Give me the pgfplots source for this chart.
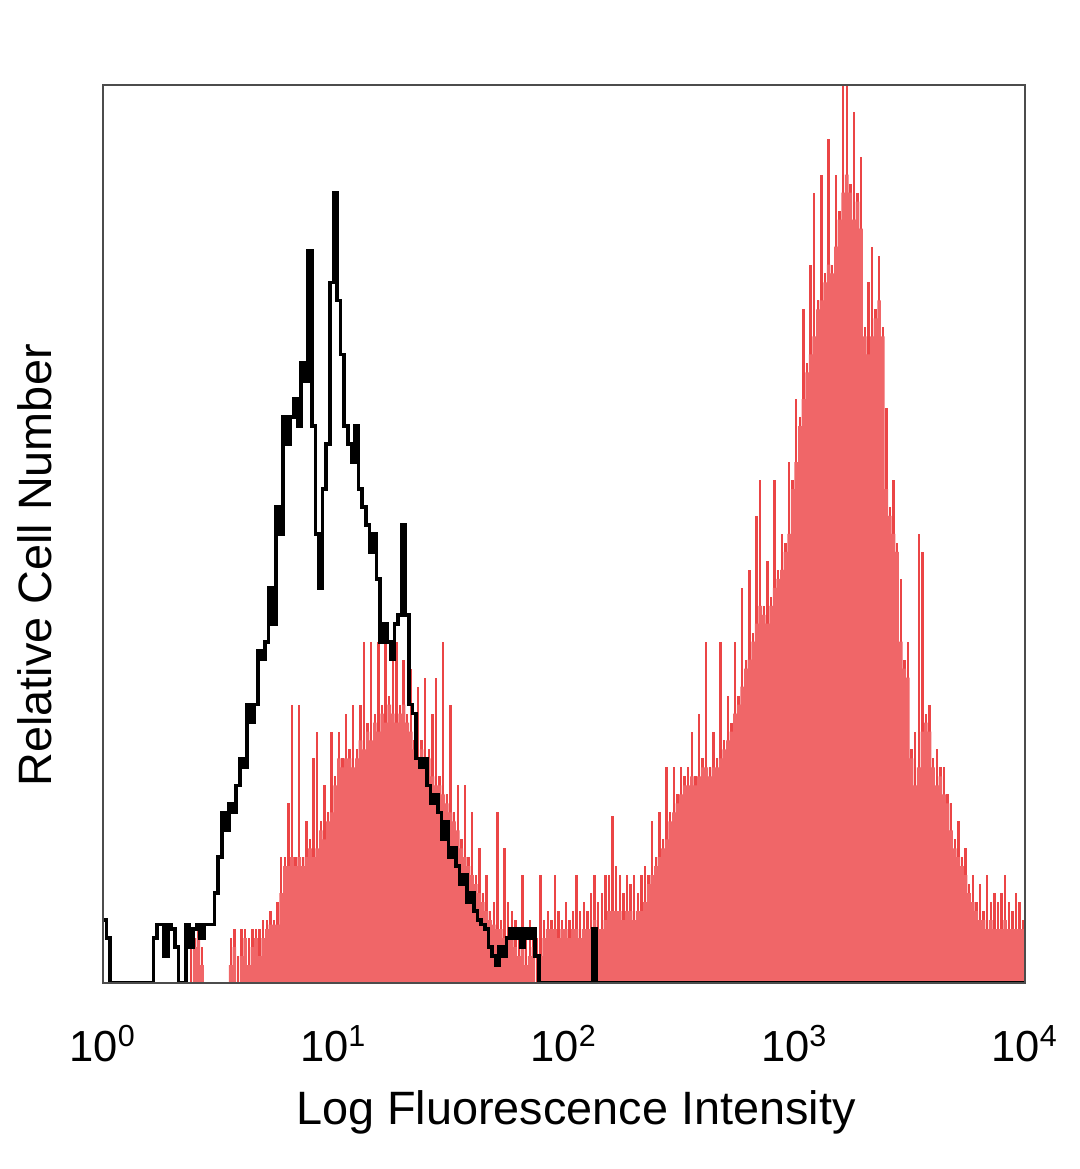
\documentclass[border=0pt]{standalone}
\usepackage{pgfplots}
\pgfplotsset{compat=1.18}
\usepackage{pgfplotstable}
\usepackage{fontspec}
\setmainfont{Liberation Sans}
\definecolor{salmon}{RGB}{240,102,104}
\definecolor{spikered}{RGB}{232,36,38}

\pgfplotstableread{
c F S B
0 0 0 7
1 0 0 5
2 0 0 0
3 0 0 0
4 0 0 0
5 0 0 0
6 0 0 0
7 0 0 0
8 0 0 0
9 0 0 0
10 0 0 0
11 0 0 0
12 0 0 0
13 0 0 0
14 0 0 5
15 0 0 6.5
16 0 0 6.5
17 0 0 3
18 0 0 6.5
19 0 0 6
20 0 0 4
21 0 0 0
22 0 0 0
23 0 0 6.5
24 0 4 4
25 4 5 6
26 5 6 6.5
27 2 4 5
28 0 0 6.5
29 0 0 6.5
30 0 0 6.5
31 0 0 10
32 0 0 14
33 0 0 19
34 0 0 17
35 2 5 20
36 4 6 19
37 0 3 22
38 3 6 25
39 5 6 24
40 2 5 31
41 4 6 29
42 5 6 31
43 3 6 37
44 5 7 36
45 6 7 38
46 6.5 8 44
47 6.5 7 40
48 6.5 9 53
49 10 14 50
50 13 14 63
51 13 20 60
52 14 31 63
53 13 14 65
54 14 31 62
55 13 14 69
56 14 18 67
57 15 16 81.5
58 14 25 62
59 15 28 50
60 17 18 44
61 16 22 55
62 18 19 60
63 19 28 78
64 22 23 88
65 25 28 76
66 24 25 70
67 25 30 62
68 25 26 60
69 24 31 58
70 25 26 62
71 27 31 55
72 26 38 53
73 28 29 51
74 27 38 48
75 29 30 50
76 28 38 45
77 30 31 38
78 29 38 40
79 31 32 38
80 30 37 36
81 29 38 40
82 30 31 41
83 31 36 51
84 29 30 41
85 28 35 31
86 26 27 30
87 25 33 25
88 26 27 24
89 24 34 25
90 25 26 22
91 23 30 20
92 22 34 21
93 22 23 19
94 21 38 16
95 20 21 18
96 19 31 14
97 18 19 15
98 17 22 13
99 15 16 11
100 14 22 12
101 13 14 9
102 12 19 10
103 11 12 8
104 10 15 7
105 9 10 6.5
106 8 12 6
107 7 8 4
108 6.5 9 3
109 6 19 2
110 6 7 4
111 5 15 3
112 5 9 5
113 5 8 6
114 4 7 5
115 3 6 6
116 4 12 4
117 2 6 6
118 3 7 5
119 4 6 6
120 0 5 3
121 3 12 0
122 5 7 0
123 6 8 0
124 6 7 0
125 6 12 0
126 5 8 0
127 6 7 0
128 6 9 0
129 5 7 0
130 6 8 0
131 6 12 0
132 5 8 0
133 6 9 0
134 6 8 0
135 6 10 0
136 7 12 6
137 6 9 0
138 6 10 0
139 7 12 0
140 8 12 0
141 8 18.6 0
142 8 13 0
143 8 12 0
144 7 10 0
145 8 12 0
146 8 11 0
147 7 12 0
148 8 10 0
149 8 12 0
150 9 13 0
151 11 12 0
152 12 18 0
153 13 14 0
154 14 19 0
155 15 16 0
156 16 24 0
157 18 19 0
158 19 24 0
159 20 21 0
160 21 24 0
161 22 23 0
162 22 24 0
163 23 28 0
164 22 23 0
165 23 30 0
166 24 25 0
167 24 38 0
168 23 24 0
169 24 28 0
170 24 25 0
171 25 38 0
172 26 27 0
173 27 32 0
174 28 29 0
175 30 38 0
176 31 32 0
177 33 44 0
178 35 36 0
179 36 46 0
180 38 39 0
181 40 52 0
182 42 56 0
183 41 42 0
184 40 47 0
185 42 43 0
186 44 56 0
187 45 46 0
188 46 50 0
189 48 49 0
190 50 58 0
191 55 56 0
192 58 65 0
193 62 63 0
194 65 75 0
195 68 69 0
196 70 80 0
197 72 88 0
198 75 76 0
199 76 90 0
200 78 79 0
201 80 94 0
202 79 80 0
203 82 90 0
204 85 86 0
205 88 100 0
206 90 100 0
207 88 89 0
208 85 97 0
209 87 88 0
210 84 92 0
211 72 73 0
212 70 78 0
213 72 82 0
214 74 75 0
215 76 81 0
216 72 73 0
217 55 64 0
218 52 53 0
219 50 56 0
220 48 49 0
221 38 45 0
222 35 36 0
223 34 38 0
224 25 26 0
225 22 28 0
226 24 50 0
227 28 48 0
228 29 30 0
229 28 31 0
230 24 25 0
231 22 26 0
232 23 24 0
233 21 24 0
234 20 21 0
235 17 20 0
236 15 16 0
237 14 18 0
238 13 14 0
239 12 15 0
240 10 11 0
241 9 12 0
242 8 9 0
243 7 11 0
244 7 8 0
245 6 12 0
246 7 9 0
247 6 10 0
248 6 9 0
249 6 10 0
250 7 12 0
251 6 9 0
252 6 8 0
253 6 10 0
254 6 9 0
255 6 7 0
256 6 6 0
}\histdata

\begin{document}
\begin{tikzpicture}
\begin{axis}[
  scale only axis,
  width=307.3pt, height=299.3pt,
  xmin=0, xmax=256, ymin=0, ymax=100,
  xtick={0,64,128,192,256},
  xticklabels={10\textsuperscript{0},10\textsuperscript{1},10\textsuperscript{2},10\textsuperscript{3},10\textsuperscript{4}},
  ytick=\empty,
  major tick length=0pt,
  axis on top,
  axis line style={black!70, line width=0.9pt},
  xticklabel style={font=\fontsize{14.5}{16}\selectfont, anchor=base, yshift=-26.3pt},
  xlabel={Log Fluorescence Intensity},
  ylabel={Relative Cell Number},
  xlabel style={font=\fontsize{15.6}{18}\selectfont, at={(axis description cs:0.5,0)}, anchor=base, xshift=4pt, yshift=-47.3pt},
  ylabel style={font=\fontsize{15.6}{18}\selectfont, at={(axis description cs:-0.0739,0.465)}, anchor=center},
]
\addplot[ycomb, draw=spikered, line width=0.8pt, opacity=0.85] table[x expr=\thisrow{c}+0.5, y=S]{\histdata};
\addplot[const plot, fill=salmon, draw=none] table[x=c,y=F]{\histdata} \closedcycle;
\addplot[const plot, draw=black, line width=1.2pt] table[x=c,y=B]{\histdata};
\coordinate (sw) at (rel axis cs:0,0);
\coordinate (ne) at (rel axis cs:1,1);
\end{axis}
\pgfresetboundingbox
\path[use as bounding box] ([shift={(-34.3pt,-62pt)}]sw) rectangle ([shift={(18.3pt,28.3pt)}]ne);
\end{tikzpicture}
\end{document}
